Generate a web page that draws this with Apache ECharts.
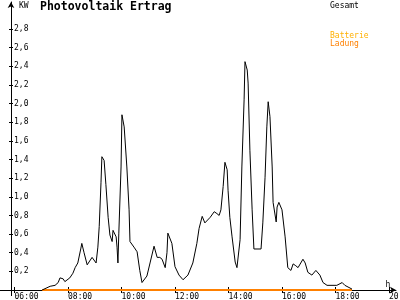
<!DOCTYPE html>
<html>
<head>
<meta charset="utf-8">
<script src="https://cdn.jsdelivr.net/npm/echarts@6/dist/echarts.min.js"></script>
<style>html,body{margin:0;padding:0;background:#fff}#c{width:400px;height:300px}</style>
</head>
<body>
<div id="c"></div>
<script>
// Gesamt (kW) readings
var gesamtTimes = ['07:02','07:20','07:31','07:38','07:42','07:49','07:53','08:04','08:11','08:16','08:22','08:29','08:31','08:36','08:43','08:54','09:03','09:07','09:10','09:14','09:16','09:21','09:25','09:30','09:34','09:39','09:41','09:48','09:50','09:52','09:54','09:59','10:01','10:06','10:12','10:17','10:19','10:28','10:35','10:41','10:46','10:48','10:57','11:04','11:13','11:20','11:26','11:31','11:38','11:42','11:44','11:53','12:00','12:09','12:18','12:29','12:40','12:49','12:54','13:01','13:07','13:19','13:28','13:34','13:39','13:43','13:48','13:52','13:57','13:59','14:03','14:08','14:15','14:19','14:26','14:30','14:35','14:37','14:42','14:44','14:48','14:53','14:57','15:13','15:17','15:22','15:26','15:29','15:33','15:38','15:40','15:47','15:49','15:53','16:00','16:07','16:13','16:20','16:25','16:31','16:36','16:47','16:52','16:58','17:07','17:16','17:25','17:32','17:41','18:03','18:15','18:21','18:37'];
var gesamtValues = [0.00,0.04,0.05,0.08,0.13,0.12,0.09,0.13,0.18,0.24,0.29,0.45,0.50,0.40,0.27,0.35,0.29,0.46,0.68,1.15,1.43,1.39,1.13,0.78,0.59,0.52,0.64,0.57,0.46,0.29,0.61,1.32,1.88,1.75,1.32,0.86,0.52,0.46,0.41,0.21,0.08,0.09,0.15,0.29,0.47,0.35,0.35,0.33,0.24,0.40,0.61,0.50,0.25,0.16,0.11,0.16,0.29,0.50,0.66,0.79,0.72,0.78,0.84,0.82,0.80,0.86,1.11,1.37,1.29,1.07,0.78,0.57,0.30,0.24,0.54,1.32,2.04,2.45,2.36,2.22,1.50,0.86,0.44,0.44,0.72,1.21,1.75,2.02,1.86,1.32,0.94,0.73,0.89,0.94,0.86,0.57,0.24,0.21,0.28,0.26,0.24,0.33,0.29,0.19,0.16,0.21,0.16,0.08,0.05,0.05,0.08,0.05,0.01];
// Batterie Ladung (kW)
var ladungTimes = ['07:02','18:37'];
var ladungValues = [0, 0];
// axis ticks
var xTickHours = [6, 8, 10, 12, 14, 16, 18, 20];
var yTickValues = [0.2,0.4,0.6,0.8,1.0,1.2,1.4,1.6,1.8,2.0,2.2,2.4,2.6,2.8];

function toHours(t){var p=t.split(':');return +p[0]+(+p[1])/60;}
function pairs(ts, vs){return ts.map(function(t,i){return [toHours(t), vs[i]];});}
function pad(n){return (n<10?'0':'')+n;}

var FONT = 'DejaVu Sans Mono';
var chart = echarts.init(document.getElementById('c'), null, {renderer:'canvas'});
var X_MIN = 5.869, X_MAX = 20.262, Y_MAX = 3.09;
chart.setOption({
  animation:false,
  backgroundColor:'#fff',
  title:[
    {text:'Photovoltaik Ertrag', left:40, top:1, padding:0, textStyle:{fontFamily:FONT, fontWeight:'bold', fontSize:11.5, color:'#000'}},
    {text:'Gesamt', left:330, top:2, padding:0, textStyle:{fontFamily:FONT, fontWeight:'normal', fontSize:8, color:'#000'}},
    {text:'Batterie', left:330, top:32, padding:0, textStyle:{fontFamily:FONT, fontWeight:'normal', fontSize:8, color:'#FFB000'}},
    {text:'Ladung', left:330, top:40, padding:0, textStyle:{fontFamily:FONT, fontWeight:'normal', fontSize:8, color:'#FF8000'}}
  ],
  grid:{left:11, right:4, top:2, bottom:10, containLabel:false, outerBoundsMode:'none'},
  xAxis:[{
    type:'value', min:X_MIN, max:X_MAX,
    name:'h', nameLocation:'end', nameGap:-8,
    nameTextStyle:{fontFamily:FONT, fontSize:8, color:'#000', align:'center', verticalAlign:'bottom', padding:[0,0,1,0]},
    axisLine:{show:true, onZero:false, lineStyle:{color:'#000', width:1}, symbol:['none','arrow'], symbolSize:[5,6]},
    axisTick:{show:true, customValues:xTickHours, length:3, lineStyle:{color:'#000'}},
    axisLabel:{show:true, customValues:xTickHours, margin:3, align:'left', hideOverlap:false, fontFamily:FONT, fontSize:8, color:'#000',
      formatter:function(v){return pad(Math.round(v))+':00';}},
    splitLine:{show:false}
  },{
    type:'value', min:X_MIN, max:X_MAX, position:'bottom',
    axisLine:{show:false, onZero:false},
    axisTick:{show:true, inside:true, customValues:xTickHours, length:3, lineStyle:{color:'#000'}},
    axisLabel:{show:false}, splitLine:{show:false}
  }],
  yAxis:[{
    type:'value', min:0, max:Y_MAX,
    name:'KW', nameLocation:'end', nameGap:-4,
    nameTextStyle:{fontFamily:FONT, fontSize:8, color:'#000', align:'left', verticalAlign:'middle', padding:[0,0,0,8]},
    axisLine:{show:true, onZero:false, lineStyle:{color:'#000', width:1}, symbol:['none','arrow'], symbolSize:[5,6]},
    axisTick:{show:true, customValues:yTickValues, length:2, lineStyle:{color:'#000'}},
    axisLabel:{show:true, inside:true, customValues:yTickValues, margin:3, fontFamily:FONT, fontSize:8, color:'#000',
      formatter:function(v){return v.toFixed(1).replace('.',',');}},
    splitLine:{show:false}
  },{
    type:'value', min:0, max:Y_MAX, position:'left',
    axisLine:{show:false, onZero:false},
    axisTick:{show:true, inside:true, customValues:yTickValues, length:2, lineStyle:{color:'#000'}},
    axisLabel:{show:false}, splitLine:{show:false}
  }],
  graphic:[
    {type:'line', shape:{x1:0, y1:290.5, x2:11, y2:290.5}, style:{stroke:'#000', lineWidth:1}},
    {type:'line', shape:{x1:11.5, y1:290, x2:11.5, y2:296}, style:{stroke:'#000', lineWidth:1}}
  ],
  series:[
    {type:'line', name:'Batterie Ladung', data:pairs(ladungTimes, ladungValues), showSymbol:false, symbol:'none',
     lineStyle:{color:'#FF8000', width:2}, z:3},
    {type:'line', name:'Gesamt', data:pairs(gesamtTimes, gesamtValues), showSymbol:false, symbol:'none',
     lineStyle:{color:'#000', width:1}, z:4}
  ]
});
</script>
</body>
</html>
